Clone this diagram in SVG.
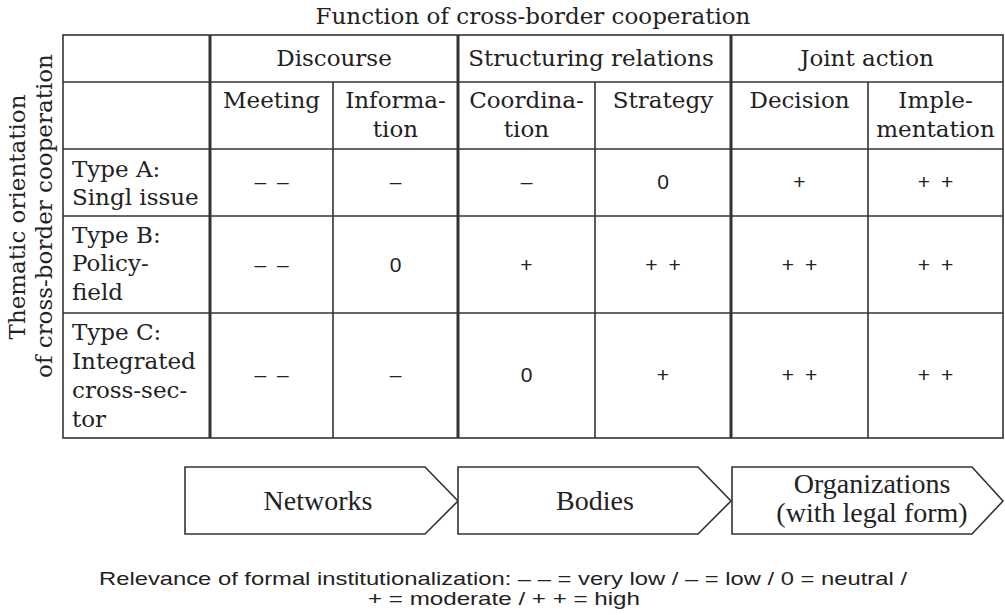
<svg xmlns="http://www.w3.org/2000/svg" width="1005" height="615" viewBox="0 0 1005 615">
<style>
.sr{font-family:"DejaVu Serif","Liberation Serif",serif;font-size:23px;fill:#222}
.c{text-anchor:middle}
.v{font-family:"Liberation Sans",Arial,sans-serif;font-size:21px;fill:#222;text-anchor:middle;word-spacing:5px}
.bx{font-family:"Liberation Serif","Times New Roman",serif;font-size:28px;fill:#222;text-anchor:middle}
.lg{font-family:"Liberation Sans Narrow","Liberation Sans",Arial,sans-serif;font-size:18.5px;fill:#222;text-anchor:middle}
.thin{stroke:#333;stroke-width:1.6;fill:none}
.thick{stroke:#333;stroke-width:3;fill:none}
.arrow{fill:#fff;stroke:#333;stroke-width:1.6}
</style>
<rect width="1005" height="615" fill="#fff"/>
<text class="sr c" x="533" y="24">Function of cross-border cooperation</text>
<g id="rowaxis">
<text class="sr c" transform="translate(25,217) rotate(-90)">Thematic orientation</text>
<text class="sr c" transform="translate(52,216) rotate(-90)">of cross-border cooperation</text>
</g>
<g id="table-grid">
<rect class="thin" x="63" y="35" width="940" height="403"/>
<line class="thin" x1="63" y1="82" x2="1003" y2="82"/>
<line class="thin" x1="63" y1="149" x2="1003" y2="149"/>
<line class="thin" x1="63" y1="216" x2="1003" y2="216"/>
<line class="thin" x1="63" y1="313" x2="1003" y2="313"/>
<line class="thick" x1="210" y1="35" x2="210" y2="438"/>
<line class="thick" x1="458" y1="35" x2="458" y2="438"/>
<line class="thick" x1="731" y1="35" x2="731" y2="438"/>
<line class="thin" x1="333" y1="82" x2="333" y2="438"/>
<line class="thin" x1="595" y1="82" x2="595" y2="438"/>
<line class="thin" x1="868" y1="82" x2="868" y2="438"/>
</g>
<g id="header">
<text class="sr c" x="334" y="66">Discourse</text>
<text class="sr c" x="591" y="66">Structuring relations</text>
<text class="sr c" x="867" y="66">Joint action</text>
<text class="sr c" x="271.5" y="108">Meeting</text>
<text class="sr c" x="395.5" y="108">Informa-</text>
<text class="sr c" x="395.5" y="137">tion</text>
<text class="sr c" x="526.5" y="108">Coordina-</text>
<text class="sr c" x="526.5" y="137">tion</text>
<text class="sr c" x="663" y="108">Strategy</text>
<text class="sr c" x="799.5" y="108">Decision</text>
<text class="sr c" x="935.5" y="108">Imple-</text>
<text class="sr c" x="935.5" y="137">mentation</text>
</g>
<g id="row-a">
<text class="sr" x="72" y="177">Type A:</text>
<text class="sr" x="72" y="205">Singl issue</text>
<text class="v" x="271.5" y="189">– –</text>
<text class="v" x="395.5" y="189">–</text>
<text class="v" x="526.5" y="189">–</text>
<text class="v" x="663" y="189">0</text>
<text class="v" x="799.5" y="189">+</text>
<text class="v" x="935.5" y="189">+ +</text>
</g>
<g id="row-b">
<text class="sr" x="72" y="243">Type B:</text>
<text class="sr" x="72" y="271">Policy-</text>
<text class="sr" x="72" y="300">field</text>
<text class="v" x="271.5" y="272">– –</text>
<text class="v" x="395.5" y="272">0</text>
<text class="v" x="526.5" y="272">+</text>
<text class="v" x="663" y="272">+ +</text>
<text class="v" x="799.5" y="272">+ +</text>
<text class="v" x="935.5" y="272">+ +</text>
</g>
<g id="row-c">
<text class="sr" x="72" y="340">Type C:</text>
<text class="sr" x="72" y="369">Integrated</text>
<text class="sr" x="72" y="398">cross-sec-</text>
<text class="sr" x="72" y="427">tor</text>
<text class="v" x="271.5" y="382">– –</text>
<text class="v" x="395.5" y="382">–</text>
<text class="v" x="526.5" y="382">0</text>
<text class="v" x="663" y="382">+</text>
<text class="v" x="799.5" y="382">+ +</text>
<text class="v" x="935.5" y="382">+ +</text>
</g>
<g id="networks">
<polygon class="arrow" points="185,467 425,467 458,501 425,534 185,534"/>
<text class="bx" x="318" y="510">Networks</text>
</g>
<g id="bodies">
<polygon class="arrow" points="458,467 698,467 731,501 698,534 458,534"/>
<text class="bx" x="595" y="510">Bodies</text>
</g>
<g id="organizations">
<polygon class="arrow" points="732,467 972,467 1003,501 972,534 732,534"/>
<text class="bx" x="872" y="493">Organizations</text>
<text class="bx" x="872" y="522">(with legal form)</text>
</g>
<g id="connectors"></g>
<g id="legend">
<text class="lg" x="503" y="585" textLength="808" lengthAdjust="spacingAndGlyphs">Relevance of formal institutionalization: – – = very low / – = low / 0 = neutral /</text>
<text class="lg" x="504" y="605" textLength="272" lengthAdjust="spacingAndGlyphs">+ = moderate / + + = high</text>
</g>
</svg>
